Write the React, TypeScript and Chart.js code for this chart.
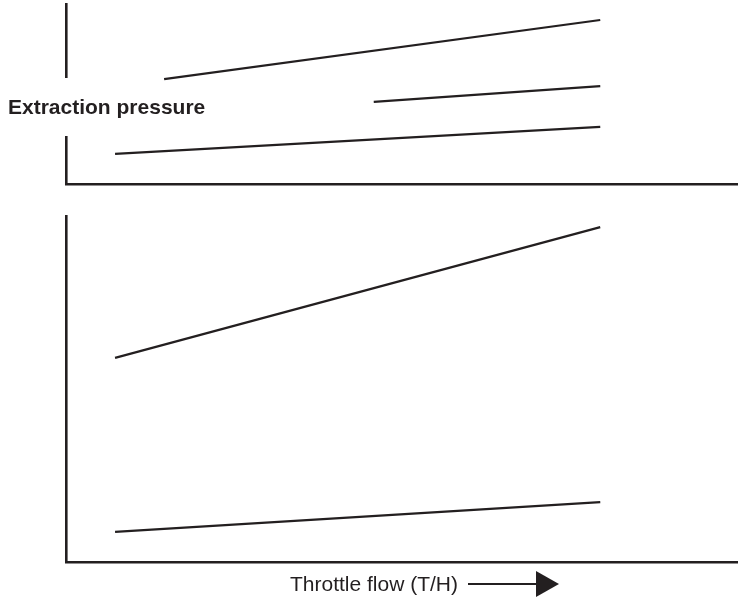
import React, { useEffect, useRef } from "react";
import { Chart, registerables } from "chart.js";

Chart.register(...registerables);

const INK = "#231f20";
const FONT = "'Liberation Sans', Arial, Helvetica, sans-serif";

const yAxisLabel = "Extraction pressure";
const xAxisLabel = "Throttle flow (T/H)";

// Top panel
const topUpperX = [14.6, 79.5];
const topUpperY = [58.3, 91.1];
const topMiddleX = [45.8, 79.5];
const topMiddleY = [45.6, 54.4];
const topLowerX = [7.3, 79.5];
const topLowerY = [16.7, 31.7];

// Bottom panel
const bottomUpperX = [7.3, 79.5];
const bottomUpperY = [59.0, 96.8];
const bottomLowerX = [7.3, 79.5];
const bottomLowerY = [8.7, 17.3];

const xRange = [0, 100];
const yRange = [0, 100];

const toPoints = (xs: number[], ys: number[]) => xs.map((x, i) => ({ x, y: ys[i] }));

const lineSet = (xs: number[], ys: number[]) => ({
  data: toPoints(xs, ys),
  borderColor: INK,
  borderWidth: 2.2,
  pointRadius: 0,
  fill: false,
  tension: 0,
});

const axis = (min: number, max: number) => ({
  type: "linear" as const,
  min,
  max,
  display: true,
  grid: { display: false },
  ticks: { display: false },
  border: { display: true, color: INK, width: 2.6 },
});

const topDecor = {
  id: "topDecor",
  afterDraw(chart: any) {
    const { ctx, chartArea } = chart;
    ctx.save();
    ctx.clearRect(chartArea.left - 4, 78, 8, 58);
    ctx.fillStyle = INK;
    ctx.font = `bold 21px ${FONT}`;
    ctx.textBaseline = "alphabetic";
    ctx.textAlign = "left";
    ctx.fillText(yAxisLabel, 8, 114);
    ctx.restore();
  },
};

const bottomDecor = {
  id: "bottomDecor",
  afterDraw(chart: any) {
    const { ctx, chartArea } = chart;
    const base = chartArea.bottom + 22;
    ctx.save();
    ctx.fillStyle = INK;
    ctx.strokeStyle = INK;
    ctx.font = `21px ${FONT}`;
    ctx.textBaseline = "middle";
    ctx.textAlign = "left";
    ctx.fillText(xAxisLabel, 290, base + 1);
    ctx.lineWidth = 2;
    ctx.beginPath();
    ctx.moveTo(468, base);
    ctx.lineTo(538, base);
    ctx.stroke();
    ctx.beginPath();
    ctx.moveTo(536, base - 13);
    ctx.lineTo(559, base);
    ctx.lineTo(536, base + 13);
    ctx.closePath();
    ctx.fill();
    ctx.restore();
  },
};

function Panel(props: {
  width: number;
  height: number;
  top: number;
  padding: { left: number; top: number; right: number; bottom: number };
  datasets: any[];
  plugin: any;
}) {
  const ref = useRef<HTMLCanvasElement | null>(null);
  useEffect(() => {
    if (!ref.current) return;
    const chart = new Chart(ref.current, {
      type: "line",
      data: { datasets: props.datasets },
      options: {
        responsive: false,
        animation: false,
        devicePixelRatio: 1,
        layout: { padding: props.padding },
        plugins: { legend: { display: false }, tooltip: { enabled: false }, title: { display: false } },
        scales: {
          x: axis(xRange[0], xRange[1]),
          y: axis(yRange[0], yRange[1]),
        },
      },
      plugins: [props.plugin],
    } as any);
    return () => chart.destroy();
  }, []);
  return (
    <canvas
      ref={ref}
      width={props.width}
      height={props.height}
      style={{ position: "absolute", left: 0, top: props.top, width: props.width, height: props.height }}
    />
  );
}

export default function App() {
  return (
    <div style={{ position: "absolute", left: 0, top: 0, width: 738, height: 599, background: "#fff" }}>
      <Panel
        width={738}
        height={200}
        top={0}
        padding={{ left: 58, top: 4, right: 0, bottom: 8 }}
        datasets={[
          lineSet(topUpperX, topUpperY),
          lineSet(topMiddleX, topMiddleY),
          lineSet(topLowerX, topLowerY),
        ]}
        plugin={topDecor}
      />
      <Panel
        width={738}
        height={399}
        top={200}
        padding={{ left: 58, top: 16, right: 0, bottom: 29 }}
        datasets={[lineSet(bottomUpperX, bottomUpperY), lineSet(bottomLowerX, bottomLowerY)]}
        plugin={bottomDecor}
      />
    </div>
  );
}
